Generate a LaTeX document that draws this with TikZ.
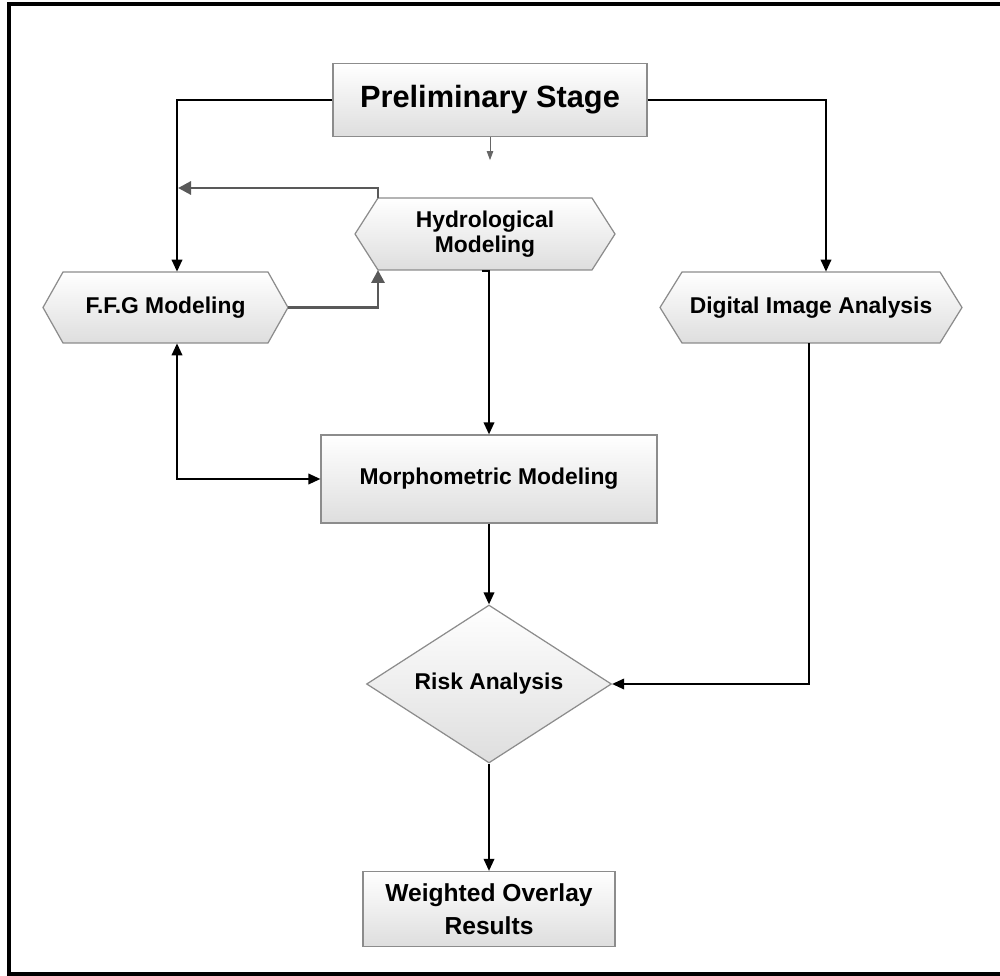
\documentclass[tikz,border=0pt]{standalone}
\usepackage{fontspec}
\setmainfont{Liberation Sans}
\usetikzlibrary{arrows.meta,shapes.geometric,calc}
\newcommand\hexagonat[5]{\path[hexfill] ({#1-#3/2},#2) -- ({#1-#3/2+#5},{#2-#4/2}) -- ({#1+#3/2-#5},{#2-#4/2}) -- ({#1+#3/2},#2) -- ({#1+#3/2-#5},{#2+#4/2}) -- ({#1-#3/2+#5},{#2+#4/2}) -- cycle;}
\begin{document}
\begin{tikzpicture}[x=0.02cm,y=-0.02cm,
  box/.style={draw=black!45, line width=0.7pt, top color=white, bottom color=black!13, font=\bfseries\fontsize{13}{15}\selectfont, align=center, inner sep=0pt},
  hexfill/.style={draw=black!45, line width=0.7pt, top color=white, bottom color=black!13},
  lbl/.style={font=\bfseries\fontsize{13}{14.5}\selectfont, align=center, inner sep=0pt},
  conn/.style={draw=black, line width=1.1pt, -{Triangle[length=2.4mm,width=2.1mm]}},
  gconn/.style={draw=black!65, line width=1.7pt, -{Triangle[length=2.6mm,width=2.6mm]}},
  small/.style={draw=black!60, line width=0.5pt, -{Triangle[length=1.8mm,width=1.3mm]}},
]
\useasboundingbox (0,0) rectangle (1000,976);
\draw[line width=0.08cm] (1000,4) -- (9,4) -- (9,974) -- (1000,974);

% nodes
\node[box, minimum width=6.28cm, minimum height=1.46cm, font=\bfseries\fontsize{17.5}{20}\selectfont] (prelim) at (490,100) {Preliminary Stage};

\hexagonat{485}{234}{260}{72}{23}
\node[lbl, minimum width=5.2cm, minimum height=1.44cm] (hydro) at (485,234) {Hydrological\\Modeling};

\hexagonat{165.5}{307.5}{245}{71}{20}
\node[lbl, minimum width=4.9cm, minimum height=1.42cm] (ffg) at (165.5,307.5) {F.F.G Modeling};

\hexagonat{811}{307.5}{302}{71}{22}
\node[lbl, minimum width=6.04cm, minimum height=1.42cm] (digital) at (811,307.5) {Digital Image Analysis};

\node[box, minimum width=6.72cm, minimum height=1.76cm] (morph) at (489,479) {Morphometric Modeling};

\node[box, diamond, aspect=1.55, minimum width=4.9cm, minimum height=3.16cm] (risk) at (489,684) {Risk Analysis};

\node[box, minimum width=5.04cm, minimum height=1.5cm, font=\bfseries\fontsize{14}{19}\selectfont] (weighted) at (489,909) {Weighted Overlay\\Results};

% helper coordinates
\coordinate (ffgin) at (178,188);
\coordinate (hydroTL) at (378,198);
\coordinate (hydroBL) at (378,270);
\coordinate (hstub) at (482,271);

% connectors
\draw[conn] (prelim.west) -| ([xshift=0.23cm]ffg.north);
\draw[conn] (prelim.east) -| ([xshift=0.3cm]digital.north);
\draw[small] (prelim.south) -- ++(0,23);
\draw[gconn] (hydroTL) |- (ffgin);
\draw[gconn] (ffg.east) -| (hydroBL);
\draw[conn] (hstub) -| (morph.north);
\draw[conn, {Triangle[length=2.4mm,width=2.1mm]}-{Triangle[length=2.4mm,width=2.1mm]}] ([xshift=0.23cm]ffg.south) |- (morph.west);
\draw[conn] (morph.south) -- (risk.north);
\draw[conn] ([xshift=-0.04cm]digital.south) |- (risk.east);
\draw[conn] (risk.south) -- (weighted.north);
\end{tikzpicture}
\end{document}
